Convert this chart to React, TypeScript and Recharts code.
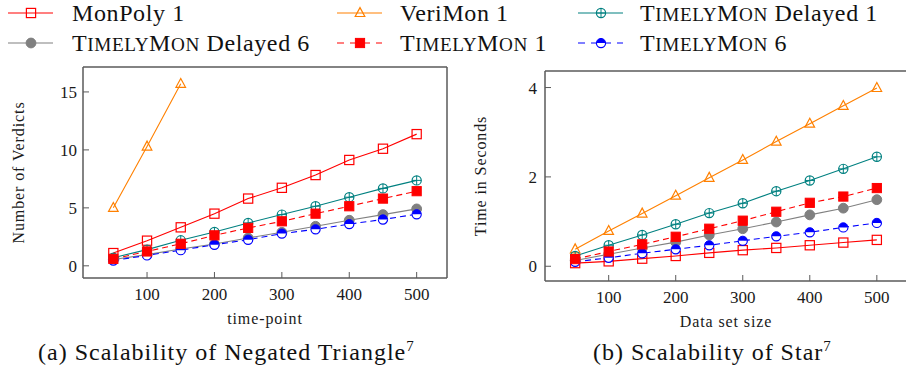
import React from 'react';
import { LineChart, Line, XAxis, YAxis } from 'recharts';

// ---------- data ----------
const xValues = [50, 100, 150, 200, 250, 300, 350, 400, 450, 500];
const xTicks = [100, 200, 300, 400, 500];
const yTicksA = [0, 5, 10, 15];
const yTicksB = [0, 2, 4];

const triMonPoly = [1.1, 2.17, 3.32, 4.5, 5.8, 6.73, 7.83, 9.13, 10.1, 11.36];
const triVeriMon = [5.0, 10.29, 15.7];
const triDelayed1 = [0.7, 1.4, 2.2, 2.92, 3.7, 4.42, 5.14, 5.92, 6.68, 7.37];
const triDelayed6 = [0.55, 0.97, 1.45, 1.88, 2.4, 2.89, 3.41, 3.93, 4.42, 4.91];
const triTimely1 = [0.6, 1.24, 1.9, 2.63, 3.27, 3.84, 4.5, 5.14, 5.8, 6.44];
const triTimely6 = [0.45, 0.9, 1.35, 1.82, 2.25, 2.78, 3.15, 3.6, 4.0, 4.45];

const starMonPoly = [0.07, 0.11, 0.17, 0.23, 0.3, 0.36, 0.41, 0.47, 0.53, 0.59];
const starVeriMon = [0.38, 0.79, 1.18, 1.58, 1.98, 2.38, 2.79, 3.19, 3.59, 3.99];
const starDelayed1 = [0.23, 0.47, 0.7, 0.94, 1.19, 1.41, 1.68, 1.92, 2.18, 2.45];
const starDelayed6 = [0.13, 0.27, 0.41, 0.54, 0.7, 0.84, 0.99, 1.15, 1.3, 1.49];
const starTimely1 = [0.16, 0.33, 0.49, 0.66, 0.84, 1.02, 1.22, 1.42, 1.56, 1.75];
const starTimely6 = [0.1, 0.19, 0.29, 0.38, 0.47, 0.57, 0.67, 0.76, 0.87, 0.97];

const triData = xValues.map((x, i) => ({
  x,
  monpoly: triMonPoly[i],
  verimon: triVeriMon[i],
  delayed1: triDelayed1[i],
  delayed6: triDelayed6[i],
  timely1: triTimely1[i],
  timely6: triTimely6[i],
}));

const starData = xValues.map((x, i) => ({
  x,
  monpoly: starMonPoly[i],
  verimon: starVeriMon[i],
  delayed1: starDelayed1[i],
  delayed6: starDelayed6[i],
  timely1: starTimely1[i],
  timely6: starTimely6[i],
}));

// ---------- styles ----------
const FONT = 'Liberation Serif';
const AXIS = '#5a5a5a';
const RED = '#ff0000';
const ORANGE = '#ff8000';
const TEAL = '#008080';
const GRAY = '#808080';
const BLUE = '#0000ff';

type MarkKind = 'squareOpen' | 'triangle' | 'oplus' | 'disc' | 'squareFilled' | 'halfcircle';

function Mark({ kind, cx, cy, color }: { kind: MarkKind; cx: number; cy: number; color: string }) {
  const r = 4.6;
  switch (kind) {
    case 'squareOpen':
      return <rect x={cx - r} y={cy - r} width={2 * r} height={2 * r} fill="none" stroke={color} strokeWidth={1.2} />;
    case 'triangle':
      return (
        <polygon
          points={`${cx},${cy - 5.4} ${cx - 4.8},${cy + 3.5} ${cx + 4.8},${cy + 3.5}`}
          fill="none"
          stroke={color}
          strokeWidth={1.2}
        />
      );
    case 'oplus':
      return (
        <g>
          <circle cx={cx} cy={cy} r={r} fill="none" stroke={color} strokeWidth={1.2} />
          <line x1={cx - r} y1={cy} x2={cx + r} y2={cy} stroke={color} strokeWidth={1} />
          <line x1={cx} y1={cy - r} x2={cx} y2={cy + r} stroke={color} strokeWidth={1} />
        </g>
      );
    case 'disc':
      return <circle cx={cx} cy={cy} r={r + 0.3} fill={color} stroke={color} />;
    case 'squareFilled':
      return <rect x={cx - r} y={cy - r} width={2 * r} height={2 * r} fill={color} stroke={color} />;
    case 'halfcircle':
      return (
        <g>
          <path d={`M ${cx - r} ${cy} A ${r} ${r} 0 0 1 ${cx + r} ${cy} Z`} fill={color} stroke={color} strokeWidth={1} />
          <path d={`M ${cx - r} ${cy} A ${r} ${r} 0 0 0 ${cx + r} ${cy}`} fill="#fff" stroke={color} strokeWidth={1.2} />
        </g>
      );
  }
  return null;
}

const dotFor = (kind: MarkKind, color: string) => (p: any) => {
  if (p == null || p.cx == null || p.cy == null || p.value == null) return <g key={`e${p?.index}`} />;
  return (
    <g key={`d${p.index}`}>
      <Mark kind={kind} cx={p.cx} cy={p.cy} color={color} />
    </g>
  );
};

const seriesDefs: { key: string; color: string; kind: MarkKind; dashed: boolean }[] = [
  { key: 'monpoly', color: RED, kind: 'squareOpen', dashed: false },
  { key: 'verimon', color: ORANGE, kind: 'triangle', dashed: false },
  { key: 'delayed6', color: GRAY, kind: 'disc', dashed: false },
  { key: 'delayed1', color: TEAL, kind: 'oplus', dashed: false },
  { key: 'timely6', color: BLUE, kind: 'halfcircle', dashed: true },
  { key: 'timely1', color: RED, kind: 'squareFilled', dashed: true },
];

const tickStyle = { fontFamily: FONT, fontSize: 17, fill: '#1a1a1a' };

function yTitle(text: string, dx: number) {
  return {
    content: (props: any) => {
      const vb = props.viewBox || { x: 0, y: 0, width: 0, height: 0 };
      const cx = vb.x + dx;
      const cy = vb.y + vb.height / 2;
      return (
        <text
          x={cx}
          y={cy}
          transform={`rotate(-90 ${cx} ${cy})`}
          textAnchor="middle"
          dominantBaseline="central"
          fontFamily={FONT}
          fontSize={16}
          letterSpacing={0.9}
          fill="#1a1a1a"
        >
          {text}
        </text>
      );
    },
  };
}

function xTitle(text: string, dy: number) {
  return {
    content: (props: any) => {
      const vb = props.viewBox || { x: 0, y: 0, width: 0, height: 0 };
      const cx = vb.x + vb.width / 2;
      const cy = vb.y + dy;
      return (
        <text
          x={cx}
          y={cy}
          textAnchor="middle"
          dominantBaseline="central"
          fontFamily={FONT}
          fontSize={16}
          letterSpacing={0.9}
          fill="#1a1a1a"
        >
          {text}
        </text>
      );
    },
  };
}

function Panel({
  data,
  width,
  margin,
  yDomain,
  yTicks,
  yTitleText,
  yTitleDx,
  xTitleText,
  yTickMargin,
}: {
  data: any[];
  width: number;
  margin: { top: number; right: number; bottom: number; left: number };
  yDomain: [number, number];
  yTicks: number[];
  yTitleText: string;
  yTitleDx: number;
  xTitleText: string;
  yTickMargin: number;
}) {
  return (
    <LineChart width={width} height={368} data={data} margin={margin}>
      <XAxis
        dataKey="x"
        type="number"
        domain={[5, 545]}
        ticks={xTicks}
        allowDataOverflow
        height={30}
        axisLine={{ stroke: AXIS, strokeWidth: 1.5 }}
        tickLine={{ stroke: AXIS, strokeWidth: 1 }}
        tickSize={-6}
        tickMargin={16}
        tick={tickStyle}
        fontFamily={FONT}
        label={xTitle(xTitleText, 40)}
      />
      <XAxis
        xAxisId="top"
        dataKey="x"
        type="number"
        orientation="top"
        domain={[5, 545]}
        ticks={xTicks}
        allowDataOverflow
        height={1}
        axisLine={{ stroke: AXIS, strokeWidth: 1.5 }}
        tickLine={{ stroke: AXIS, strokeWidth: 1 }}
        tickSize={-6}
        tick={false}
      />
      <YAxis
        type="number"
        domain={yDomain}
        ticks={yTicks}
        allowDataOverflow
        width={40}
        axisLine={{ stroke: AXIS, strokeWidth: 1.5 }}
        tickLine={{ stroke: AXIS, strokeWidth: 1 }}
        tickSize={-6}
        tickMargin={yTickMargin}
        tick={tickStyle}
        fontFamily={FONT}
        label={yTitle(yTitleText, yTitleDx)}
      />
      <YAxis
        yAxisId="right"
        type="number"
        orientation="right"
        domain={yDomain}
        ticks={yTicks}
        allowDataOverflow
        width={1}
        axisLine={{ stroke: AXIS, strokeWidth: 1.5 }}
        tickLine={{ stroke: AXIS, strokeWidth: 1 }}
        tickSize={-6}
        tick={false}
      />
      {seriesDefs.map((s) => (
        <Line
          key={s.key}
          dataKey={s.key}
          type="linear"
          stroke={s.color}
          strokeWidth={1.1}
          strokeDasharray={s.dashed ? '6 4' : undefined}
          dot={dotFor(s.kind, s.color)}
          activeDot={false}
          isAnimationActive={false}
          connectNulls={false}
        />
      ))}
    </LineChart>
  );
}

// "TimelyMon" in small caps, built from capitals at two sizes
function TimelyMon({ size }: { size: number }) {
  const small = size * 0.8;
  return (
    <>
      <tspan fontSize={size}>T</tspan>
      <tspan fontSize={small}>IMELY</tspan>
      <tspan fontSize={size}>M</tspan>
      <tspan fontSize={small}>ON</tspan>
    </>
  );
}

const legendItems: { x: number; tx: number; y: number; kind: MarkKind; color: string; dashed: boolean; tm: boolean; rest: string }[] = [
  { x: 8, tx: 72, y: 13, kind: 'squareOpen', color: RED, dashed: false, tm: false, rest: 'MonPoly 1' },
  { x: 337, tx: 400, y: 13, kind: 'triangle', color: ORANGE, dashed: false, tm: false, rest: 'VeriMon 1' },
  { x: 578, tx: 640, y: 13, kind: 'oplus', color: TEAL, dashed: false, tm: true, rest: '\u00a0Delayed 1' },
  { x: 8, tx: 72, y: 43, kind: 'disc', color: GRAY, dashed: false, tm: true, rest: '\u00a0Delayed 6' },
  { x: 337, tx: 400, y: 43, kind: 'squareFilled', color: RED, dashed: true, tm: true, rest: '\u00a01' },
  { x: 578, tx: 640, y: 43, kind: 'halfcircle', color: BLUE, dashed: true, tm: true, rest: '\u00a06' },
];

function Overlay() {
  const LS = 24;
  return (
    <svg width={906} height={368} style={{ position: 'absolute', left: 0, top: 0, pointerEvents: 'none' }}>
      {legendItems.map((it, i) => (
        <g key={i}>
          <line
            x1={it.x}
            y1={it.y}
            x2={it.x + 45}
            y2={it.y}
            stroke={it.color}
            strokeWidth={1.2}
            strokeDasharray={it.dashed ? '7 6' : undefined}
          />
          <Mark kind={it.kind} cx={it.x + 23} cy={it.y} color={it.color} />
          <text x={it.tx} y={it.y + 8} fontFamily={FONT} fontSize={LS} letterSpacing={0.6} fill="#111">
            {it.tm ? <TimelyMon size={LS} /> : null}
            <tspan fontSize={LS}>{it.rest}</tspan>
          </text>
        </g>
      ))}
      <text x={38} y={360} fontFamily={FONT} fontSize={24} letterSpacing={1} fill="#111">
        (a) Scalability of Negated Triangle
        <tspan fontSize={15} dy={-9}>7</tspan>
      </text>
      <text x={593} y={360} fontFamily={FONT} fontSize={24} letterSpacing={1} fill="#111">
        (b) Scalability of Star
        <tspan fontSize={15} dy={-9}>7</tspan>
      </text>
    </svg>
  );
}

export default function App() {
  return (
    <div
      style={{
        position: 'absolute',
        left: 0,
        top: 0,
        width: 906,
        height: 368,
        overflow: 'hidden',
        background: '#fff',
      }}
    >
      <div style={{ position: 'absolute', left: 0, top: 0 }}>
        <Panel
          data={triData}
          width={453}
          margin={{ top: 66, right: 5, bottom: 60, left: 43 }}
          yDomain={[-1.05, 17.15]}
          yTicks={yTicksA}
          yTitleText="Number of Verdicts"
          yTitleDx={-25}
          xTitleText="time-point"
          yTickMargin={12}
        />
      </div>
      <div style={{ position: 'absolute', left: 453, top: 0 }}>
        <Panel
          data={starData}
          width={460}
          margin={{ top: 70, right: 5, bottom: 57, left: 52 }}
          yDomain={[-0.33, 4.37]}
          yTicks={yTicksB}
          yTitleText="Time in Seconds"
          yTitleDx={-25}
          xTitleText="Data set size"
          yTickMargin={14}
        />
      </div>
      <Overlay />
    </div>
  );
}
